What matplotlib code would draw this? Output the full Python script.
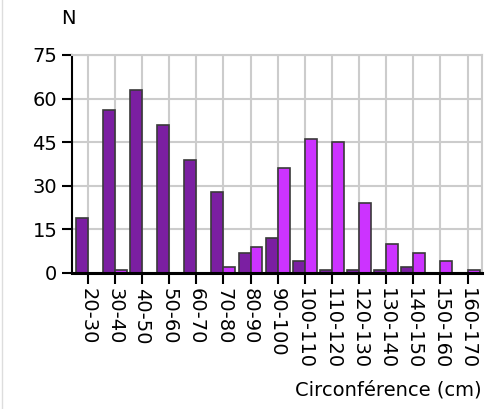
import numpy as np
import matplotlib
matplotlib.use("Agg")
import matplotlib.pyplot as plt
from matplotlib.lines import Line2D

categories = ["20-30", "30-40", "40-50", "50-60", "60-70", "70-80", "80-90",
              "90-100", "100-110", "110-120", "120-130", "130-140",
              "140-150", "150-160", "160-170"]
dark_vals = [19, 56, 63, 51, 39, 28, 7, 12, 4, 1, 1, 1, 2, 0, 0]
light_vals = [0, 1, 0, 0, 0, 2, 9, 36, 46, 45, 24, 10, 7, 4, 1]
yticks = [0, 15, 30, 45, 60, 75]

DARK = "#7b1fa2"
LIGHT = "#cc33ff"
EDGE = "#3a3a3a"

plt.rcParams["font.family"] = "DejaVu Sans"
fig = plt.figure(figsize=(4.99, 4.09), dpi=100)
ax = fig.add_axes([72/499, 1-273/409, 410/499, 218/409])

x = np.arange(len(categories))
w = 0.44
ax.bar(x - w/2, dark_vals, w, color=DARK, edgecolor=EDGE, lw=1.2, zorder=3)
ax.bar(x + w/2, light_vals, w, color=LIGHT, edgecolor=EDGE, lw=1.2, zorder=3)

ax.set_xlim(-0.58, len(categories) - 0.47)
ax.set_ylim(0, 75)
ax.set_yticks(yticks)
ax.set_xticks(x)
ax.set_xticklabels(categories, rotation=270, fontsize=14, va="top", ha="center")
ax.tick_params(axis="y", labelsize=14, length=7, width=1.5, color="black")
ax.tick_params(axis="x", length=8, width=1.5, color="black", pad=3)
ax.grid(True, color="#cccccc", lw=1.5, zorder=0)
for s in ("top", "right"):
    ax.spines[s].set_color("#cccccc")
    ax.spines[s].set_linewidth(1.5)
ax.spines["left"].set_linewidth(1.5)
ax.spines["bottom"].set_linewidth(2.2)
ax.spines["bottom"].set_zorder(4)

fig.text(68/499, 1-18/409, "N", fontsize=14, ha="center", va="center")
fig.text(482/499, 1-390/409, "Circonférence (cm)", fontsize=14, ha="right", va="center")
fig.add_artist(Line2D([1.5/499, 1.5/499], [0, 1], transform=fig.transFigure,
                      color="#dddddd", lw=1))

fig.savefig("out.png", dpi=100)
